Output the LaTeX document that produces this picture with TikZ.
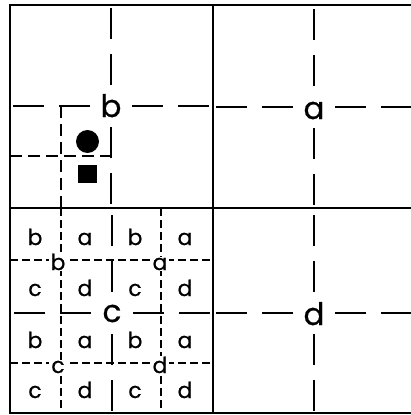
\documentclass[tikz,border=0pt]{standalone}
\usepackage{fontspec}
\setmainfont{Poppins}[FakeBold=0.6]

\begin{document}
\begin{tikzpicture}[
  x=1pt,y=-1pt,
  frame/.style={line width=2.8pt},
  maincross/.style={line width=2pt,dash pattern=on 0pt off 21pt on 31pt off 15pt on 31pt off 40pt},
  finecross/.style={line width=1.7pt,dash pattern=on 12pt off 6pt},
  subcross/.style={line width=1.6pt,dash pattern=on 8pt off 4pt},
  bigletter/.style={font=\fontsize{31}{31}\selectfont,inner sep=0pt,anchor=base},
  smallletter/.style={font=\fontsize{22}{22}\selectfont,inner sep=0pt,anchor=base},
  sublabel/.style={smallletter,fill=white,inner xsep=2pt,inner ysep=1pt}
]
\useasboundingbox (0,0) rectangle (411,415);
\draw[frame] (10,5) rectangle (417,413);
\draw[frame] (213,5) -- (213,413);
\draw[frame] (10,208) -- (417,208);
\foreach \name/\cx/\cy/\by in {b/111/106/117,a/314/107/119,c/112/313/322,d/314/313/325}{
  \coordinate (\name) at (\cx,\cy);
  \draw[maincross] (\name) -- ++(0,-101);
  \draw[maincross] (\name) -- ++(0,101);
  \draw[maincross] (\name) -- ++(-101,0);
  \draw[maincross] (\name) -- ++(101,0);
  \node[bigletter] (\name-lbl) at (\cx,\by) {\name};
}
\draw[finecross] (10,156) -- (112,156);
\draw[finecross] (61,106) -- (61,208);
\node[circle,fill,minimum size=23pt,inner sep=0pt] (dot) at (87.5,141.5) {};
\node[fill,minimum width=19pt,minimum height=18pt,inner sep=0pt] (blk) at (87.5,174) {};
\draw[subcross] (10,260) -- (213,260);
\draw[subcross] (10,363) -- (213,363);
\draw[subcross] (61,208) -- (61,413);
\draw[subcross] (161,208) -- (161,413);
\foreach \name/\x/\y in {b/58/270,a/160/270,c/58/373,d/160/373}
  \node[sublabel] (sub-\name) at (\x,\y) {\name};
\foreach \y in {245,348}{
  \foreach \x/\l in {35/b,85/a,135/b,185/a}
    \node[smallletter] (cell-\x-\y) at (\x,\y) {\l};
}
\foreach \y in {296,398}{
  \foreach \x/\l in {35/c,85/d,135/c,185/d}
    \node[smallletter] (cell-\x-\y) at (\x,\y) {\l};
}
\end{tikzpicture}
\end{document}
